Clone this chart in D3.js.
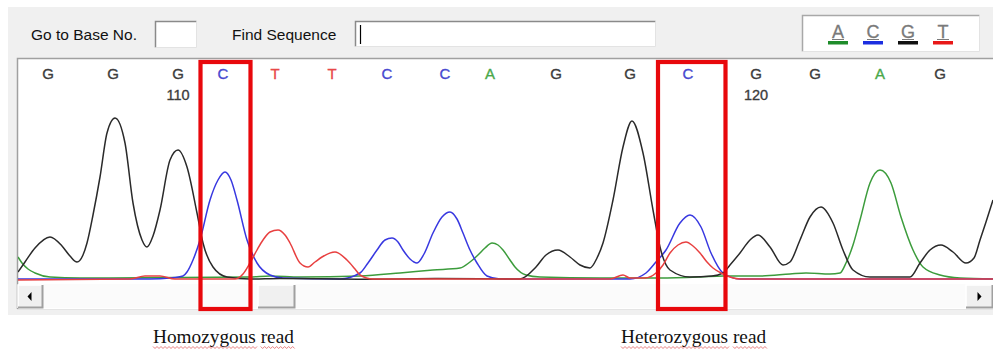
<html>
	<head>
		<title>Chromatogram</title>
		<style type="text/css">
			body {margin: 0; background: white;}
		</style>
	</head>
	<body>
		<svg id="chart" width="993" height="352"></svg>
	</body>
	<script src="https://cdnjs.cloudflare.com/ajax/libs/d3/7.8.5/d3.min.js"></script>
	<script>
		// base calls (scan position of each called base)
		var baseLetters = ["G","G","G","C","T","T","C","C","A","G","G","C","G","G","A","G"];
		var baseScans   = [30, 95, 160, 205, 257, 314, 369, 427, 472, 538, 612, 670, 738, 797, 862, 922];
		var firstBaseNo = 108;

		// traces: [scan, intensity]
		var traceG = [[0,80],[7,180],[17,320],[32,430],[44,340],[52,240],[59,180],[65,250],[69,370],[75,650],[82,1030],[89,1470],[97,1620],[107,1370],[115,770],[124,400],[129,330],[135,440],[142,700],[152,1200],[160,1300],[169,1130],[179,670],[185,370],[195,130],[209,30],[232,10],[262,15],[340,8],[420,14],[502,10],[518,130],[528,250],[540,300],[552,230],[562,150],[572,120],[579,220],[585,370],[595,800],[605,1330],[614,1590],[625,1270],[635,700],[642,330],[652,100],[672,30],[694,40],[705,70],[712,150],[722,270],[732,400],[740,450],[752,330],[765,150],[772,180],[782,400],[792,630],[803,730],[815,570],[825,300],[835,100],[852,30],[892,30],[902,170],[912,300],[923,350],[935,280],[948,170],[956,220],[962,400],[968,580],[975,800]];
		var traceC = [[0,10],[132,10],[152,20],[165,40],[169,80],[175,200],[182,400],[192,800],[200,1000],[207,1080],[213,1000],[219,800],[229,400],[239,170],[252,50],[265,20],[322,10],[342,70],[350,170],[359,300],[367,400],[374,420],[380,380],[385,300],[392,210],[399,170],[406,260],[415,470],[424,630],[432,680],[439,610],[445,470],[452,300],[459,170],[469,40],[482,10],[612,10],[628,70],[638,180],[648,300],[662,570],[672,650],[683,530],[693,270],[705,70],[722,10],[975,10]];
		var traceT = [[0,0],[112,10],[127,40],[142,40],[157,10],[217,10],[225,60],[232,170],[239,300],[245,400],[252,480],[260,500],[267,450],[272,370],[282,170],[290,130],[297,180],[304,230],[317,280],[329,200],[337,110],[342,50],[355,10],[592,10],[605,50],[612,20],[627,20],[638,70],[645,150],[652,270],[660,350],[668,380],[675,340],[682,270],[689,180],[695,120],[705,60],[722,10],[975,10]];
		var traceA = [[0,230],[4,170],[10,110],[17,70],[32,30],[62,20],[232,30],[252,40],[282,30],[342,40],[382,70],[415,100],[442,120],[452,180],[460,250],[467,320],[474,370],[480,350],[485,300],[492,200],[497,130],[508,50],[522,30],[582,20],[642,20],[682,30],[705,40],[742,40],[772,60],[788,70],[812,60],[822,70],[828,170],[835,350],[842,600],[852,970],[862,1100],[873,970],[883,630],[895,300],[905,130],[922,50],[942,20],[975,10]];

		var legendLetters = ["A","C","G","T"];
		var boxedBases = [3, 11];
		var captions = ["Homozygous read", "Heterozygous read"];

		var colors = {A: "#3c9c3c", C: "#3838e0", G: "#2a2a2a", T: "#e84040"};
		var letterColors = {A: "#4aa84a", C: "#4848d0", G: "#3c3c3c", T: "#e84848"};
		var legendColors = {A: "#1e8c2a", C: "#1c2ee0", G: "#111111", T: "#e81818"};

		var svg = d3.select("#chart");
		var plot = {left: 18, right: 993, top: 59, base: 280, bottom: 284};

		var xScale = d3.scaleLinear().domain([0, 975]).range([plot.left, plot.right]);
		var yScale = d3.scaleLinear().domain([0, 2200]).range([plot.base, 60]);

		// window background
		svg.append("rect").attr("x", 8).attr("y", 7).attr("width", 985).attr("height", 308).attr("fill", "#f0f0f0");

		// toolbar
		var uiFont = "'Liberation Sans', Arial, sans-serif";
		svg.append("text").attr("x", 31).attr("y", 40).attr("font-family", uiFont).attr("font-size", 15.5).attr("fill", "#111").text("Go to Base No.");
		svg.append("text").attr("x", 232).attr("y", 40).attr("font-family", uiFont).attr("font-size", 15.5).attr("fill", "#111").text("Find Sequence");

		function insetBox(x, y, w, h, dark) {
			svg.append("rect").attr("x", x).attr("y", y).attr("width", w).attr("height", h).attr("fill", "white");
			svg.append("path").attr("d", "M" + x + "," + (y + h) + "V" + y + "H" + (x + w))
				.attr("fill", "none").attr("stroke", dark).attr("stroke-width", 1.5);
			svg.append("path").attr("d", "M" + (x + w) + "," + y + "V" + (y + h) + "H" + x)
				.attr("fill", "none").attr("stroke", "#e3e3e3").attr("stroke-width", 1);
		}
		insetBox(155.5, 21.5, 41, 26, "#8a8a8a");
		insetBox(355.5, 21.5, 300, 25, "#8a8a8a");
		svg.append("line").attr("x1", 360.5).attr("x2", 360.5).attr("y1", 25).attr("y2", 44).attr("stroke", "#000").attr("stroke-width", 1.2);

		// legend
		insetBox(802.5, 15.5, 177, 36, "#a8a8a8");
		var legend = svg.append("g").selectAll("g").data(legendLetters).enter().append("g")
			.attr("transform", function (d, i) { return "translate(" + (838 + i * 35) + ",0)"; });
		legend.append("text").attr("x", 0).attr("y", 38).attr("text-anchor", "middle")
			.attr("font-family", uiFont).attr("font-size", 18).attr("fill", "#7a7a7a")
			.attr("stroke", "#7a7a7a").attr("stroke-width", 0.3).text(function (d) { return d; });
		legend.append("line").attr("x1", -6).attr("x2", 6).attr("y1", 39.5).attr("y2", 39.5).attr("stroke", "#7a7a7a").attr("stroke-width", 1);
		legend.append("rect").attr("x", -10).attr("y", 41).attr("width", 20).attr("height", 3.5)
			.attr("fill", function (d) { return legendColors[d]; });

		// trace panel
		svg.append("rect").attr("x", 17).attr("y", 58).attr("width", 980).attr("height", 251).attr("fill", "white");
		svg.append("path").attr("d", "M17.5,309V58.5H993").attr("fill", "none").attr("stroke", "#a0a0a0").attr("stroke-width", 1.5);
		svg.append("rect").attr("x", 18).attr("y", 284).attr("width", 975).attr("height", 24).attr("fill", "#fbfbfb");
		svg.append("line").attr("x1", 17).attr("x2", 993).attr("y1", 309.5).attr("y2", 309.5).attr("stroke", "#e4e4e4");

		// scrollbar
		function button(x, w, dir) {
			var g = svg.append("g");
			g.append("rect").attr("x", x).attr("y", 285).attr("width", w).attr("height", 23).attr("fill", "#f0f0f0");
			g.append("path").attr("d", "M" + x + ",308V285H" + (x + w)).attr("fill", "none").attr("stroke", "#ffffff").attr("stroke-width", 1.5);
			g.append("path").attr("d", "M" + (x + w - 0.5) + ",285V307.5H" + x).attr("fill", "none").attr("stroke", "#a0a0a0").attr("stroke-width", 2);
			var cx = x + w / 2;
			if (dir < 0) {
				g.append("path").attr("d", "M" + (cx + 1) + ",292L" + (cx - 3) + ",296.5L" + (cx + 1) + ",301Z").attr("fill", "#000");
			} else if (dir > 0) {
				g.append("path").attr("d", "M" + (cx - 2) + ",292L" + (cx + 2) + ",296.5L" + (cx - 2) + ",301Z").attr("fill", "#000");
			}
		}
		button(18, 25, -1);
		button(258, 37, 0);
		button(966, 27, 1);

		// traces
		svg.append("defs").append("clipPath").attr("id", "plotClip").append("rect")
			.attr("x", plot.left).attr("y", plot.top).attr("width", plot.right - plot.left).attr("height", plot.bottom - plot.top);

		var line = d3.line()
			.x(function (d) { return xScale(d[0]); })
			.y(function (d) { return yScale(d[1]); })
			.curve(d3.curveMonotoneX);

		var traces = [{base: "A", data: traceA}, {base: "C", data: traceC}, {base: "G", data: traceG}, {base: "T", data: traceT}];
		svg.append("g").attr("clip-path", "url(#plotClip)").selectAll("path").data(traces).enter().append("path")
			.attr("d", function (d) { return line(d.data); })
			.attr("fill", "none")
			.attr("stroke", function (d) { return colors[d.base]; })
			.attr("stroke-width", 1.5)
			.attr("stroke-linejoin", "round");

		// base calls and base numbers
		svg.append("g").selectAll("text").data(baseLetters).enter().append("text")
			.attr("x", function (d, i) { return xScale(baseScans[i]); })
			.attr("y", 79)
			.attr("text-anchor", "middle")
			.attr("font-family", uiFont).attr("font-size", 15)
			.attr("fill", function (d) { return letterColors[d]; })
			.attr("stroke", function (d) { return letterColors[d]; })
			.attr("stroke-width", 0.35)
			.text(function (d) { return d; });

		var numbered = d3.range(baseLetters.length).filter(function (i) { return (firstBaseNo + i) % 10 == 0; });
		svg.append("g").selectAll("text").data(numbered).enter().append("text")
			.attr("x", function (i) { return xScale(baseScans[i]); })
			.attr("y", 100)
			.attr("text-anchor", "middle")
			.attr("font-family", uiFont).attr("font-size", 14.5)
			.attr("fill", "#3c3c3c").attr("stroke", "#3c3c3c").attr("stroke-width", 0.35)
			.text(function (i) { return firstBaseNo + i; });

		// highlight boxes around the boxed bases
		var boxWidths = [50, 67.5];
		var boxOffsets = [-22.5, -30];
		svg.append("g").selectAll("rect").data(boxedBases).enter().append("rect")
			.attr("x", function (d, i) { return xScale(baseScans[d]) + boxOffsets[i]; })
			.attr("y", 62)
			.attr("width", function (d, i) { return boxWidths[i]; })
			.attr("height", 247)
			.attr("fill", "none")
			.attr("stroke", "#e8080c")
			.attr("stroke-width", 4.2);

		// captions with spell-check underline
		var capX = [153, 621];
		var cap = svg.append("g").selectAll("text").data(captions).enter().append("text")
			.attr("x", function (d, i) { return capX[i]; })
			.attr("y", 343)
			.attr("font-family", "'Liberation Serif', 'Times New Roman', serif")
			.attr("font-size", 19.3)
			.attr("fill", "#111")
			.text(function (d) { return d; });

		cap.each(function (d, i) {
			var node = this;
			var words = d.split(" ");
			var pos = 0;
			words.forEach(function (w) {
				var start = capX[i] + (pos > 0 ? node.getSubStringLength(0, pos) : 0);
				var len = node.getSubStringLength(pos, w.length);
				var path = "M" + start + ",346.5";
				for (var k = 0; k * 2 < len; k++) {
					path += "L" + (start + k * 2 + 2) + "," + (k % 2 == 0 ? 348.5 : 346.5);
				}
				svg.append("path").attr("d", path).attr("fill", "none").attr("stroke", "#e06060").attr("stroke-width", 0.8);
				pos += w.length + 1;
			});
		});
	</script>
</html>
